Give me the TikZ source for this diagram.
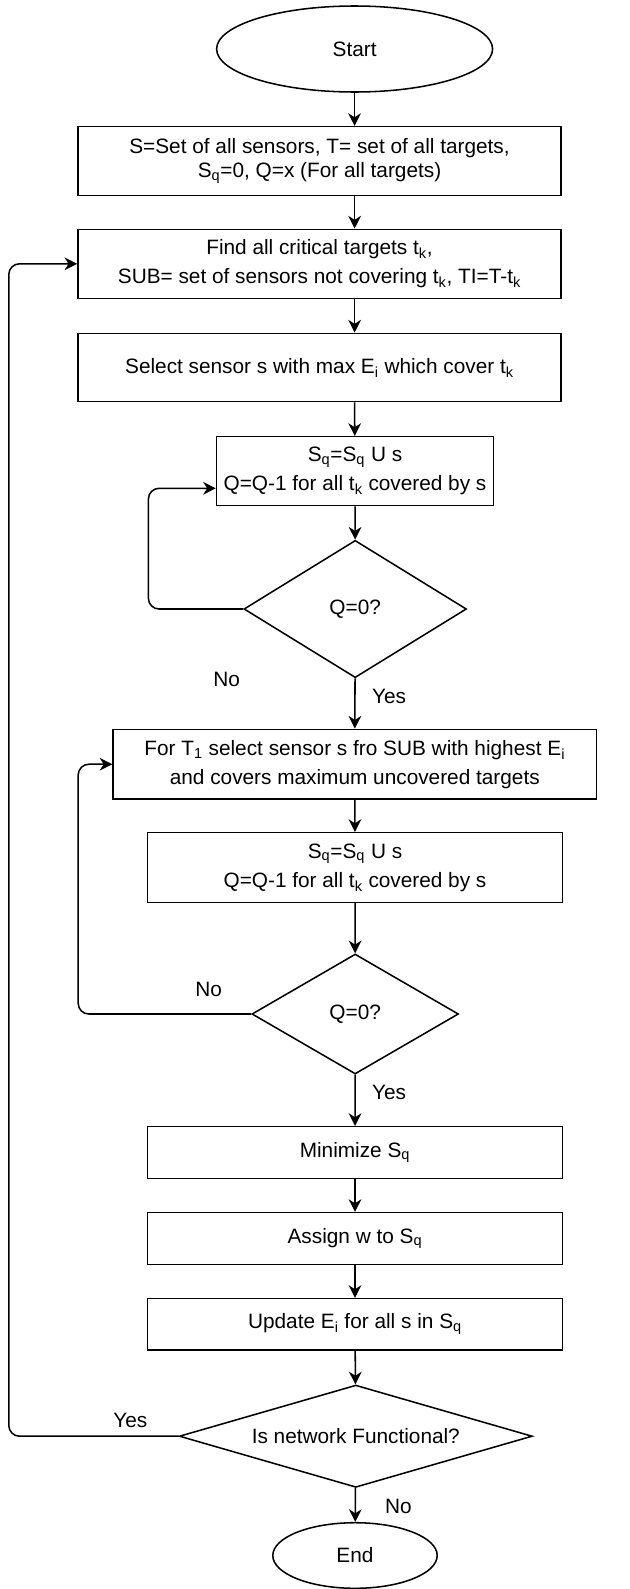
\documentclass[tikz,border=0pt]{standalone}
\usepackage{fontspec}
\setmainfont{Liberation Sans}
\usetikzlibrary{shapes.geometric,arrows.meta}
\begin{document}
\begin{tikzpicture}[x=0.75pt,y=-0.75pt,
  txt/.style={font=\fontsize{15.6}{21.75}\selectfont},
  sz/.style 2 args={minimum width=#1*0.75pt, minimum height=#2*0.75pt},
  proc/.style={txt, draw, line width=1.15pt, rectangle, inner sep=0pt, align=center},
  term/.style={txt, draw, line width=1.15pt, ellipse, inner sep=0pt},
  dec/.style={txt, draw, line width=1.15pt, diamond, inner sep=0pt},
  flow/.style={line width=1.15pt, -{Stealth[length=9.5pt,width=9.5pt,inset=3pt]}},
  loopline/.style={flow, rounded corners=8pt},
  lbl/.style={txt, inner sep=0pt}]
\fill[white] (0,0) rectangle (629,1589);
\useasboundingbox (0,0) rectangle (629,1589);

\node[term, sz={276}{86}] (start) at (354.6,49) {Start};
\node[proc, sz={483}{69}, font=\fontsize{15.6}{18}\selectfont] (b1) at (319.5,161.2)
  {S=Set of all sensors, T= set of all targets,\\ S\textsubscript{q}=0, Q=x (For all targets)};
\node[proc, sz={483}{69}] (b2) at (319.5,263.8)
  {Find all critical targets t\textsubscript{k},\\ SUB= set of sensors not covering t\textsubscript{k}, TI=T-t\textsubscript{k}};
\node[proc, sz={483}{68.4}] (b3) at (319.5,367.5)
  {Select sensor s with max E\textsubscript{i} which cover t\textsubscript{k}};
\node[proc, sz={276.8}{69}] (b4) at (355,471.2)
  {S\textsubscript{q}=S\textsubscript{q} U s\\ Q=Q-1 for all t\textsubscript{k} covered by s};
\node[dec, shape aspect=1.62, sz={222.6}{137.3}] (d1) at (355.2,609) {Q=0?};
\node[proc, sz={483.4}{69.7}] (b5) at (354.8,764.2)
  {For T\textsubscript{1} select sensor s fro SUB with highest E\textsubscript{i}\\ and covers maximum uncovered targets};
\node[proc, sz={414.8}{69.6}] (b6) at (355,867.5)
  {S\textsubscript{q}=S\textsubscript{q} U s\\ Q=Q-1 for all t\textsubscript{k} covered by s};
\node[dec, shape aspect=1.72, sz={206.6}{120}] (d2) at (355.2,1014) {Q=0?};
\node[proc, sz={414.8}{51.6}] (b7) at (355,1152.5) {Minimize S\textsubscript{q}};
\node[proc, sz={414.8}{51.6}] (b8) at (355,1238.5) {Assign w to S\textsubscript{q}};
\node[proc, sz={414.8}{51.3}] (b9) at (355,1324.3) {Update E\textsubscript{i} for all s in S\textsubscript{q}};
\node[dec, shape aspect=3.45, sz={353}{102.3}] (d3) at (355.8,1436.2) {Is network Functional?};
\node[term, sz={164.4}{65.6}] (end) at (355,1555.5) {End};

\coordinate (l1) at (148.4,488.3);
\coordinate (l2) at (78.2,764.2);
\coordinate (l3) at (8.8,263.8);

\draw[flow] (start) -- (start |- b1.north);
\draw[flow] (start |- b1.south) -- (start |- b2.north);
\draw[flow] (start |- b2.south) -- (start |- b3.north);
\draw[flow] (start |- b3.south) -- (b4);
\draw[flow] (b4) -- (d1);
\draw[flow] (d1) -- (b5);
\draw[flow] (b5) -- (b6);
\draw[flow] (b6) -- (d2);
\draw[flow] (d2) -- (b7);
\draw[flow] (b7) -- (b8);
\draw[flow] (b8) -- (b9);
\draw[flow] (b9) -- (d3);
\draw[flow] (d3) -- (end);

\draw[loopline] (d1.west) -| (l1) -- (b4.west |- l1);
\draw[loopline] (d2.west) -| (l2) -- (b5.west);
\draw[loopline] (d3.west) -| (l3) -- (b2.west);

\node[lbl] (n1) at (226.6,679) {No};
\node[lbl] (y1) at (389,696.7) {Yes};
\node[lbl] (n2) at (208.6,989.3) {No};
\node[lbl] (y2) at (389,1092.7) {Yes};
\node[lbl] (y3) at (130.4,1420) {Yes};
\node[lbl] (n3) at (398.3,1506) {No};
\end{tikzpicture}
\end{document}
